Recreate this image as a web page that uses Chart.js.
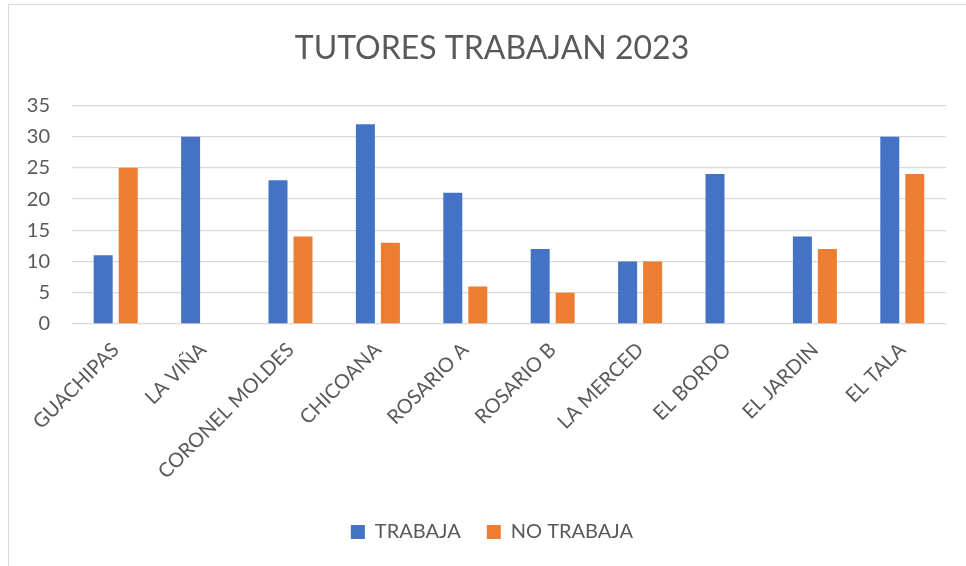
<!DOCTYPE html>
<html>
<head>
<meta charset="utf-8">
<script src="https://cdn.jsdelivr.net/npm/chart.js@4/dist/chart.umd.min.js"></script>
<style>
  html, body { margin: 0; padding: 0; background: #fff; }
  #wrap { position: relative; width: 966px; height: 566px; overflow: hidden; }
  #frame { position: absolute; left: 8px; top: 4px; width: 970px; height: 580px; border: 1px solid #d9d9d9; box-sizing: border-box; }
  canvas { position: absolute; left: 0; top: 0; }
</style>
</head>
<body>
<div id="wrap">
  <div id="frame"></div>
  <canvas id="c" width="966" height="566"></canvas>
</div>
<script>
const categories = ["GUACHIPAS", "LA VIÑA", "CORONEL MOLDES", "CHICOANA", "ROSARIO A", "ROSARIO B", "LA MERCED", "EL BORDO", "EL JARDIN", "EL TALA"];
const trabaja = [11, 30, 23, 32, 21, 12, 10, 24, 14, 30];
const noTrabaja = [25, 0, 14, 13, 6, 5, 10, 0, 12, 24];
const seriesNames = ["TRABAJA", "NO TRABAJA"];
const yTicks = [0, 5, 10, 15, 20, 25, 30, 35];
const titleText = "TUTORES TRABAJAN 2023";

const FONT = "Lato, Carlito, 'Liberation Sans', sans-serif";
const TXT = "#595959";

new Chart(document.getElementById("c"), {
  type: "bar",
  data: {
    labels: categories,
    datasets: [
      { label: seriesNames[0], data: trabaja, backgroundColor: "#4472C4", categoryPercentage: 0.572, barPercentage: 0.76 },
      { label: seriesNames[1], data: noTrabaja, backgroundColor: "#ED7D31", categoryPercentage: 0.572, barPercentage: 0.76 }
    ]
  },
  options: {
    responsive: false,
    animation: false,
    layout: { padding: { left: 38, right: 20, top: 0, bottom: 14 } },
    plugins: {
      title: {
        display: true,
        text: titleText,
        color: TXT,
        font: { family: FONT, size: 32, weight: 400 },
        padding: { top: 29, bottom: 38 }
      },
      legend: {
        position: "bottom",
        labels: {
          color: TXT,
          font: { family: FONT, size: 20 },
          boxWidth: 14,
          boxHeight: 14,
          padding: 26
        }
      },
      tooltip: { enabled: false }
    },
    scales: {
      x: {
        grid: { display: false },
        border: { display: false },
        ticks: {
          color: TXT,
          font: { family: FONT, size: 20 },
          minRotation: 45,
          maxRotation: 45,
          padding: 6,
          autoSkip: false
        },
        afterFit(scale) { scale.height = 172; }
      },
      y: {
        min: 0,
        max: 35,
        afterBuildTicks(scale) { scale.ticks = yTicks.map(v => ({ value: v })); },
        grid: { color: "#d9d9d9", lineWidth: 1.3, drawTicks: false },
        border: { display: false },
        ticks: {
          color: TXT,
          font: { family: FONT, size: 20 },
          padding: 22
        },
        afterFit(scale) {
          scale.width = 34;
          scale._computeLabelArea = () => undefined;
        }
      }
    }
  }
});
</script>
</body>
</html>
